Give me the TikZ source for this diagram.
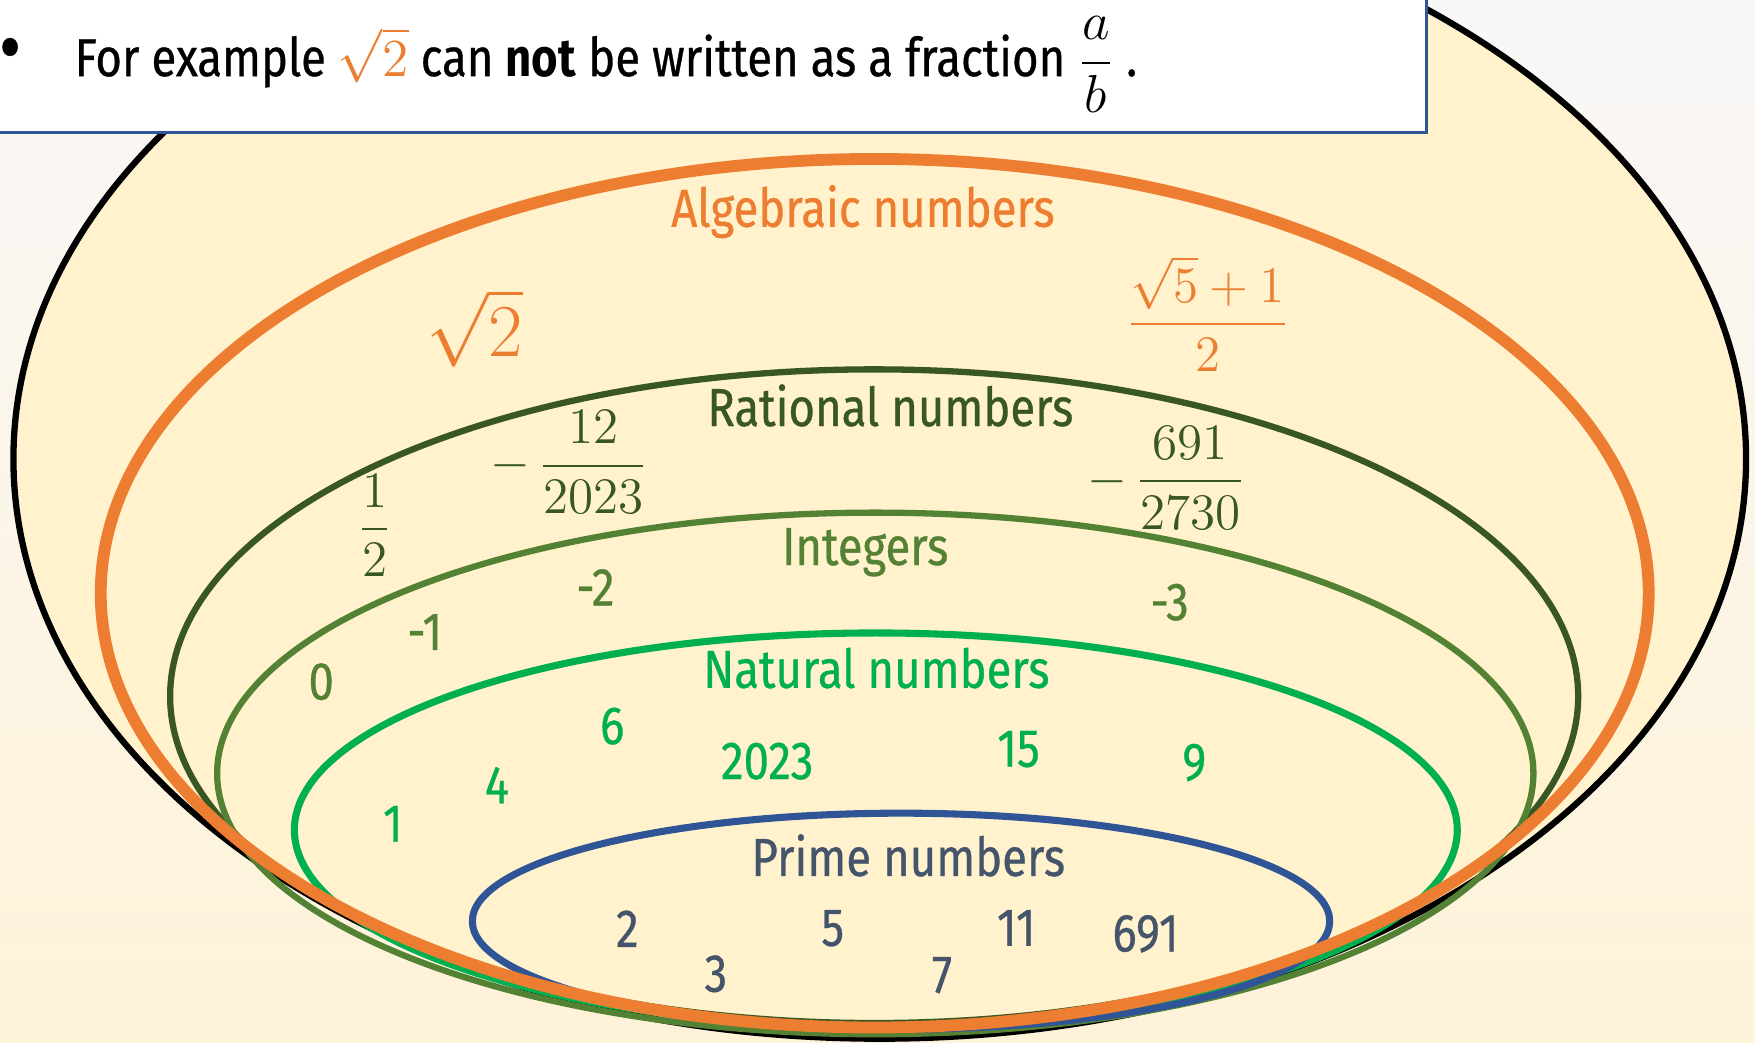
\RequirePackage{fix-cm}
\documentclass[tikz,border=0pt]{standalone}
\usepackage{amsmath}
\usepackage[no-math]{fontspec}
\setmainfont{Fira Sans}[FakeStretch=0.85, UprightFeatures={FakeBold=0.6}]
\usepackage{tikz}
\definecolor{algorange}{RGB}{237,125,49}
\definecolor{ratgreen}{RGB}{56,87,35}
\definecolor{intgreen}{RGB}{84,130,53}
\definecolor{natgreen}{RGB}{0,176,80}
\definecolor{primeblue}{RGB}{47,85,151}
\definecolor{primetext}{RGB}{68,84,106}
\definecolor{setfill}{RGB}{255,242,204}
\definecolor{bgtop}{RGB}{249,247,248}
\definecolor{bgbottom}{RGB}{254,243,216}

\begin{document}
\begin{tikzpicture}[
    setline/.style={line width=1.6pt},
    lbl/.style={inner sep=0pt, anchor=base, font=\fontsize{13.6}{16}\selectfont},
    fraclbl/.style={inner sep=0pt, anchor=base, font=\fontsize{13}{15}\selectfont}
]
    \useasboundingbox (0,0) rectangle (15.68,9.31);
    \clip (0,0) rectangle (15.68,9.31);
    \shade[top color=bgtop, bottom color=bgbottom] (0,0) rectangle (15.68,9.31);

    % Sets
    \draw[setline, fill=setfill] (7.86,5.21) ellipse [x radius=7.74, y radius=5.18];
    \draw[setline, draw=ratgreen] (7.81,3.09) ellipse [x radius=6.29, y radius=2.92];
    \draw[setline, draw=intgreen] (7.82,2.40) ellipse [x radius=5.88, y radius=2.33];
    \draw[setline, draw=natgreen, line width=1.8pt] (7.825,1.895) ellipse [x radius=5.195, y radius=1.76];
    \draw[setline, draw=primeblue, line width=1.8pt] (8.05,1.08) ellipse [x radius=3.83, y radius=0.965];
    \draw[draw=algorange, line width=3pt] (7.815,4.01) ellipse [x radius=6.915, y radius=3.88];

    % Note box
    \draw[fill=white, draw=primeblue, line width=0.6pt] (-0.2,8.125) rectangle (12.745,9.6);
    \node[inner sep=0pt, font=\fontsize{20}{20}\selectfont] (dot) at (0.09,8.81) {•};
    \node[lbl, anchor=base west] (note) at (0.66,8.63)
        {For example {\color{algorange}$\sqrt{2}$} can \textbf{not} be written as a fraction $\dfrac{a}{b}$ .};

    % Set names
    \node[lbl, text=algorange]  (alg)   at (7.71,7.284)  {Algebraic numbers};
    \node[lbl, text=ratgreen]   (rat)   at (7.955,5.504) {Rational numbers};
    \node[lbl, text=intgreen]   (int)   at (7.73,4.262)  {Integers};
    \node[lbl, text=natgreen]   (nat)   at (7.83,3.165)  {Natural numbers};
    \node[lbl, text=primetext]  (prime) at (8.115,1.484) {Prime numbers};

    % Algebraic
    \node[inner sep=0pt, text=algorange, font=\fontsize{19}{22}\selectfont]
        (sq2) at (4.24,6.38) {$\sqrt{2}$};
    \node[fraclbl, text=algorange] (gold) at (10.79,6.30) {$\dfrac{\sqrt{5}+1}{2}$};

    % Rational
    \node[fraclbl, text=ratgreen] (half) at (3.35,4.47)   {$\dfrac{1}{2}$};
    \node[fraclbl, text=ratgreen] (q1)   at (5.085,5.036) {$-\,\dfrac{12}{2023}$};
    \node[fraclbl, text=ratgreen] (q2)   at (10.42,4.896) {$-\,\dfrac{691}{2730}$};

    % Integers
    \node[lbl, text=intgreen] (z0) at (2.87,3.06)  {0};
    \node[lbl, text=intgreen] (z1) at (3.795,3.503) {-1};
    \node[lbl, text=intgreen] (z2) at (5.32,3.90)  {-2};
    \node[lbl, text=intgreen] (z3) at (10.45,3.77) {-3};

    % Natural
    \node[lbl, text=natgreen] (n1)  at (3.51,1.79)  {1};
    \node[lbl, text=natgreen] (n4)  at (4.44,2.133) {4};
    \node[lbl, text=natgreen] (n6)  at (5.47,2.663) {6};
    \node[lbl, text=natgreen] (n2023) at (6.855,2.35) {2023};
    \node[lbl, text=natgreen] (n15) at (9.10,2.46)  {15};
    \node[lbl, text=natgreen] (n9)  at (10.67,2.34) {9};

    % Prime
    \node[lbl, text=primetext] (p2)   at (5.605,0.85) {2};
    \node[lbl, text=primetext] (p3)   at (6.396,0.45) {3};
    \node[lbl, text=primetext] (p5)   at (7.44,0.86)  {5};
    \node[lbl, text=primetext] (p7)   at (8.417,0.44) {7};
    \node[lbl, text=primetext] (p11)  at (9.08,0.86)  {11};
    \node[lbl, text=primetext] (p691) at (10.235,0.81) {691};
\end{tikzpicture}
\end{document}
